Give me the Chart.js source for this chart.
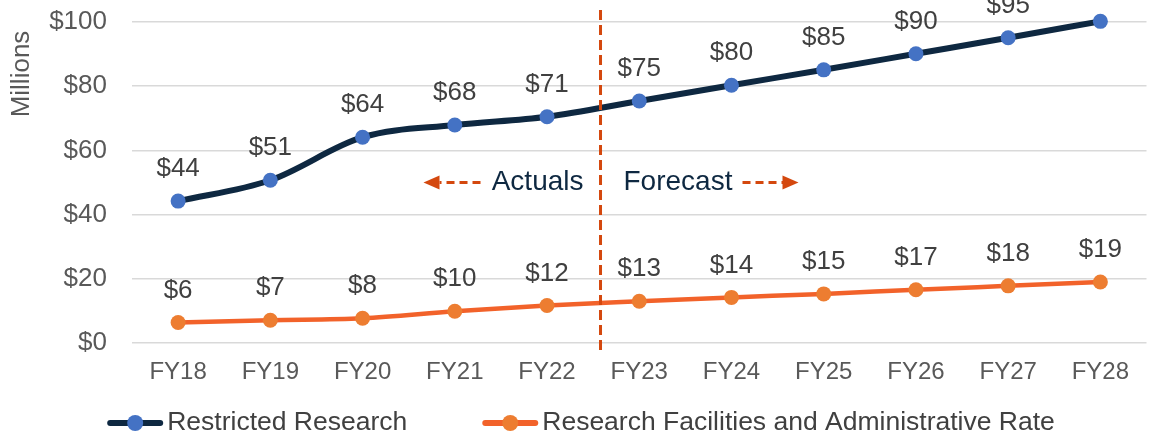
<!DOCTYPE html>
<html>
<head>
<meta charset="utf-8">
<script src="https://cdn.jsdelivr.net/npm/chart.js@4.4.1/dist/chart.umd.min.js"></script>
<style>
    html, body { margin: 0; padding: 0; background: #ffffff; overflow: hidden; }
    #wrap { width: 1150px; height: 438px; overflow: hidden; }
    canvas { display: block; }
</style>
</head>
<body>
<div id="wrap"><canvas id="chart" width="1154" height="438" style="width:1154px;height:438px"></canvas></div>
<script>
// Chart values
const years = ['FY18', 'FY19', 'FY20', 'FY21', 'FY22', 'FY23', 'FY24', 'FY25', 'FY26', 'FY27', 'FY28'];
const restrictedResearch = [44.2, 50.7, 64.1, 67.9, 70.5, 75.4, 80.3, 85.1, 90.1, 95.1, 100.2];
const facilitiesRate = [6.4, 7.1, 7.7, 9.9, 11.7, 13.0, 14.2, 15.3, 16.6, 17.8, 19.0];
const seriesNames = ['Restricted Research', 'Research Facilities and Administrative Rate'];
const yTicks = [0, 20, 40, 60, 80, 100];
const dividerPos = 4.58; // between FY22 and FY23

const FONT = "'Liberation Sans', Arial, sans-serif";
const NAVY = '#0E2841';
const BLUE = '#4472C4';
const ORANGE_LINE = '#F2622A';
const ORANGE_DOT = '#ED7D31';
const DIVIDER = '#D4480E';

function fmt(v) {
    return '$' + Math.round(v);
}

// Labels, divider, actuals/forecast note, axis title and legend
const overlayPlugin = {
    id: 'overlay',
    afterDatasetsDraw(chart) {
        const ctx = chart.ctx;
        const x = chart.scales.x;
        const y = chart.scales.y;

        // axis title
        ctx.save();
        ctx.font = '26px ' + FONT;
        ctx.fillStyle = '#595959';
        ctx.textAlign = 'center';
        ctx.textBaseline = 'middle';
        ctx.translate(22, 74);
        ctx.rotate(-Math.PI / 2);
        ctx.fillText('Millions', 0, 0);
        ctx.restore();

        // value labels above each point
        ctx.save();
        ctx.font = '26px ' + FONT;
        ctx.fillStyle = '#404040';
        ctx.textAlign = 'center';
        ctx.textBaseline = 'middle';
        chart.data.datasets.forEach((ds, di) => {
            chart.getDatasetMeta(di).data.forEach((pt, i) => {
                ctx.fillText(fmt(ds.data[i]), pt.x, pt.y - 32);
            });
        });
        ctx.restore();

        // vertical dashed divider
        const dx = x.getPixelForValue(dividerPos);
        ctx.save();
        ctx.strokeStyle = DIVIDER;
        ctx.lineWidth = 3;
        ctx.setLineDash([10, 5]);
        ctx.beginPath();
        ctx.moveTo(dx, 10);
        ctx.lineTo(dx, 352);
        ctx.stroke();
        ctx.restore();

        // Actuals / Forecast note with arrows
        const ay = y.getPixelForValue(50);
        ctx.save();
        ctx.font = '28px ' + FONT;
        ctx.fillStyle = NAVY;
        ctx.textBaseline = 'middle';
        ctx.textAlign = 'right';
        ctx.fillText('Actuals', dx - 17, ay);
        ctx.textAlign = 'left';
        ctx.fillText('Forecast', dx + 23, ay);

        ctx.strokeStyle = DIVIDER;
        ctx.fillStyle = DIVIDER;
        ctx.lineWidth = 3;
        ctx.setLineDash([8, 5]);
        ctx.beginPath();
        ctx.moveTo(dx - 120, ay);
        ctx.lineTo(dx - 161, ay);
        ctx.moveTo(dx + 142, ay);
        ctx.lineTo(dx + 183, ay);
        ctx.stroke();
        ctx.setLineDash([]);
        ctx.beginPath();
        ctx.moveTo(dx - 177, ay);
        ctx.lineTo(dx - 161, ay - 7);
        ctx.lineTo(dx - 161, ay + 7);
        ctx.closePath();
        ctx.fill();
        ctx.beginPath();
        ctx.moveTo(dx + 198, ay);
        ctx.lineTo(dx + 182, ay - 7);
        ctx.lineTo(dx + 182, ay + 7);
        ctx.closePath();
        ctx.fill();
        ctx.restore();

        // legend
        ctx.save();
        ctx.font = '26.5px ' + FONT;
        ctx.textBaseline = 'middle';
        ctx.textAlign = 'left';
        const ly = 423;
        const markW = 56, gap = 4, itemGap = 75;
        const widths = seriesNames.map(n => ctx.measureText(n).width);
        const total = markW * 2 + gap * 2 + widths[0] + widths[1] + itemGap;
        let lx = 581 - total / 2;
        chart.data.datasets.forEach((ds, di) => {
            ctx.strokeStyle = ds.borderColor;
            ctx.lineWidth = 6;
            ctx.lineCap = 'round';
            ctx.beginPath();
            ctx.moveTo(lx + 3, ly);
            ctx.lineTo(lx + markW - 3, ly);
            ctx.stroke();
            ctx.fillStyle = ds.pointBackgroundColor;
            ctx.beginPath();
            ctx.arc(lx + markW / 2, ly, 8, 0, Math.PI * 2);
            ctx.fill();
            ctx.fillStyle = '#404040';
            ctx.fillText(seriesNames[di], lx + markW + gap, ly);
            lx += markW + gap + widths[di] + itemGap;
        });
        ctx.restore();
    }
};

const ctx = document.getElementById('chart');
new Chart(ctx, {
    type: 'line',
    data: {
        labels: years,
        datasets: [{
            label: seriesNames[0],
            data: restrictedResearch,
            borderColor: NAVY,
            borderWidth: 6,
            pointRadius: 7.5,
            pointHoverRadius: 7.5,
            pointBackgroundColor: BLUE,
            pointBorderColor: BLUE,
            pointBorderWidth: 0,
            cubicInterpolationMode: 'monotone',
            clip: false
        }, {
            label: seriesNames[1],
            data: facilitiesRate,
            borderColor: ORANGE_LINE,
            borderWidth: 4.5,
            pointRadius: 7.5,
            pointHoverRadius: 7.5,
            pointBackgroundColor: ORANGE_DOT,
            pointBorderColor: ORANGE_DOT,
            pointBorderWidth: 0,
            cubicInterpolationMode: 'monotone',
            clip: false
        }]
    },
    options: {
        responsive: false,
        animation: false,
        events: [],
        layout: {
            padding: { top: 22, right: 0, bottom: 45, left: 0 }
        },
        plugins: {
            legend: { display: false },
            tooltip: { enabled: false }
        },
        scales: {
            x: {
                offset: true,
                grid: { display: false, drawTicks: false },
                border: { display: false },
                ticks: {
                    color: '#595959',
                    font: { family: FONT, size: 24 },
                    padding: 15,
                    maxRotation: 0
                },
                afterFit(scale) {
                    scale.height = 50;
                    scale.paddingLeft = 0;
                    scale.paddingRight = 0;
                }
            },
            y: {
                min: 0,
                max: 100,
                afterBuildTicks(scale) {
                    scale.ticks = yTicks.map(v => ({ value: v }));
                },
                grid: { color: '#D9D9D9', lineWidth: 1.5, drawTicks: false },
                border: { display: false },
                ticks: {
                    color: '#595959',
                    font: { family: FONT, size: 26 },
                    padding: 25,
                    callback: v => '$' + v
                },
                afterFit(scale) {
                    scale.width = 132;
                    scale.paddingTop = 0;
                    scale.paddingBottom = 0;
                }
            }
        }
    },
    plugins: [overlayPlugin]
});
</script>
</body>
</html>
